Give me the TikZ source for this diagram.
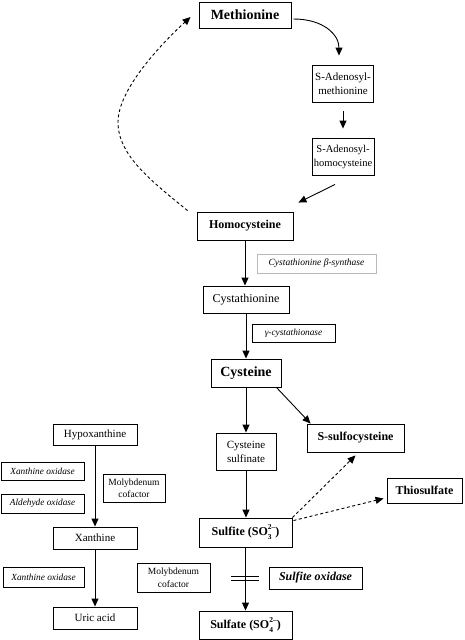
\documentclass[tikz,border=0pt]{standalone}
\usepackage{fontspec}
\setmainfont{Liberation Serif}
\usetikzlibrary{arrows.meta,calc}
\newcommand{\ionsub}[2]{\rlap{\raisebox{-4pt}{\fontsize{7.5}{7.5}\selectfont #1}}\raisebox{6pt}{\fontsize{7.5}{7.5}\selectfont #2}}
\begin{document}
\begin{tikzpicture}[x=1pt,y=-1pt,
  box/.style={draw, line width=0.9pt, inner sep=0pt, align=center},
  arr/.style={line width=0.9pt, -{Triangle[length=8pt,width=7pt]}},
  darr/.style={arr, dash pattern=on 3pt off 2.5pt},
  fb14/.style={font=\fontsize{14}{16}\selectfont\bfseries},
  fb12/.style={font=\fontsize{12}{14}\selectfont\bfseries},
  fr12/.style={font=\fontsize{12}{14}\selectfont},
  fr11/.style={font=\fontsize{11}{14}\selectfont},
  fs9/.style={font=\fontsize{9.5}{12.5}\selectfont},
  fi9/.style={font=\fontsize{9.3}{11}\selectfont\itshape},
  fbi12/.style={font=\fontsize{12}{14}\selectfont\bfseries\itshape}]
\fill[white] (0,0) rectangle (464,640);
\useasboundingbox (0,0) rectangle (464,640);

% main column
\node[box, fb14, minimum width=92pt, minimum height=26pt] (met) at (245,15) {Methionine};
\node[box, fr11, minimum width=61pt, minimum height=37pt] (sam) at (343,83.5) {S-Adenosyl-\\methionine};
\node[box, font=\fontsize{10.5}{14}\selectfont, minimum width=62pt, minimum height=37pt] (sah) at (343,156.5) {S-Adenosyl-\\homocysteine};
\node[box, fb12, minimum width=96pt, minimum height=28pt] (hcy) at (245,226) {Homocysteine};
\node[box, draw=gray!55, line width=0.6pt, font=\fontsize{9.5}{11}\selectfont\itshape, minimum width=119pt, minimum height=19pt] (cbs) at (316.5,263.5) {Cystathionine β-synthase};
\node[box, fr12, minimum width=86pt, minimum height=27pt] (cysta) at (246,299.5) {Cystathionine};
\node[box, fi9, minimum width=83pt, minimum height=18pt] (gcys) at (293.5,333) {γ-cystathionase};
\node[box, fb14, minimum width=70pt, minimum height=28pt] (cys) at (246,373) {Cysteine};
\node[box, fr11, minimum width=60pt, minimum height=37pt] (csulf) at (246,451.5) {Cysteine\\sulfinate};
\node[box, fb12, minimum width=97pt, minimum height=28pt] (ssc) at (355.5,438) {S-sulfocysteine};
\node[box, fb12, minimum width=75pt, minimum height=25pt] (thio) at (424.5,490.5) {Thiosulfate};
\node[box, fb12, minimum width=93pt, minimum height=29pt] (sulfite) at (245.5,532.5) {Sulfite (SO\ionsub{3}{2–})};
\node[box, fbi12, minimum width=93pt, minimum height=22pt] (sox) at (315.5,578) {Sulfite oxidase};
\node[box, fb12, minimum width=93pt, minimum height=28pt] (sulfate) at (245.5,625) {Sulfate (SO\ionsub{4}{2–})};
\node[box, fs9, minimum width=73pt, minimum height=29pt] (molyL) at (173.5,577.5) {Molybdenum\\cofactor};

% left column
\node[box, fr11, minimum width=84pt, minimum height=21pt] (hypo) at (95,434.5) {Hypoxanthine};
\node[box, fi9, minimum width=83pt, minimum height=18pt] (xo1) at (42.5,471) {Xanthine oxidase};
\node[box, fi9, minimum width=83pt, minimum height=19pt] (ao) at (42.5,503.5) {Aldehyde oxidase};
\node[box, fs9, minimum width=62pt, minimum height=28pt] (molyU) at (134,488) {Molybdenum\\cofactor};
\node[box, fr11, minimum width=84pt, minimum height=22pt] (xan) at (95,538) {Xanthine};
\node[box, fi9, minimum width=81pt, minimum height=20pt] (xo2) at (43.5,577) {Xanthine oxidase};
\node[box, fr11, minimum width=84pt, minimum height=22pt] (uric) at (95,618) {Uric acid};

% methionine cycle
\draw[arr] ($(met.east)+(2,4)$) .. controls ($(met.east)+(32,4)$) and ($(sam.north)+(-4,-30)$) .. ($(sam.north)+(-4,-9)$);
\draw[arr, shorten <=9pt, shorten >=9pt] (sam.south) -- (sah.north);
\draw[arr] ($(sah.south)+(-8,9)$) -- ($(hcy.north east)+(5,-9)$);
\coordinate (dl) at (118,122);
\draw[darr] ($(hcy.north west)+(-9,-1)$) .. controls (150,180) and (118,155) .. (dl)
  .. controls (118,90) and (160,45) .. ($(met.west)+(-8,2)$);

% transsulfuration
\draw[arr] (hcy.south) -- (hcy.south |- cysta.north);
\draw[arr] (cysta.south) -- (cys.north);
\draw[arr] (cys.south) -- (csulf.north);
\draw[arr] ($(cys.south east)+(-5,0)$) -- ($(ssc.north west)+(4,0)$);
\draw[arr] (csulf.south) -- (csulf.south |- sulfite.north);
\draw[darr] (sulfite.north east) -- ($(ssc.south)+(0,3)$);
\draw[darr] ($(sulfite.north east)+(1,3)$) -- ($(thio.south west)+(-3,-5)$);
\draw[arr] (sulfite.south) -- (sulfite.south |- sulfate.north);
% block mark
\draw[line width=1.2pt] ($(sulfite.south)+(-14.5,29)$) -- ($(sulfite.south)+(13.5,29)$);
\draw[line width=1.2pt] ($(sulfite.south)+(-14.5,33)$) -- ($(sulfite.south)+(13.5,33)$);

% purine
\draw[arr] (hypo.south) -- (xan.north);
\draw[arr] (xan.south) -- (uric.north);
\end{tikzpicture}
\end{document}
